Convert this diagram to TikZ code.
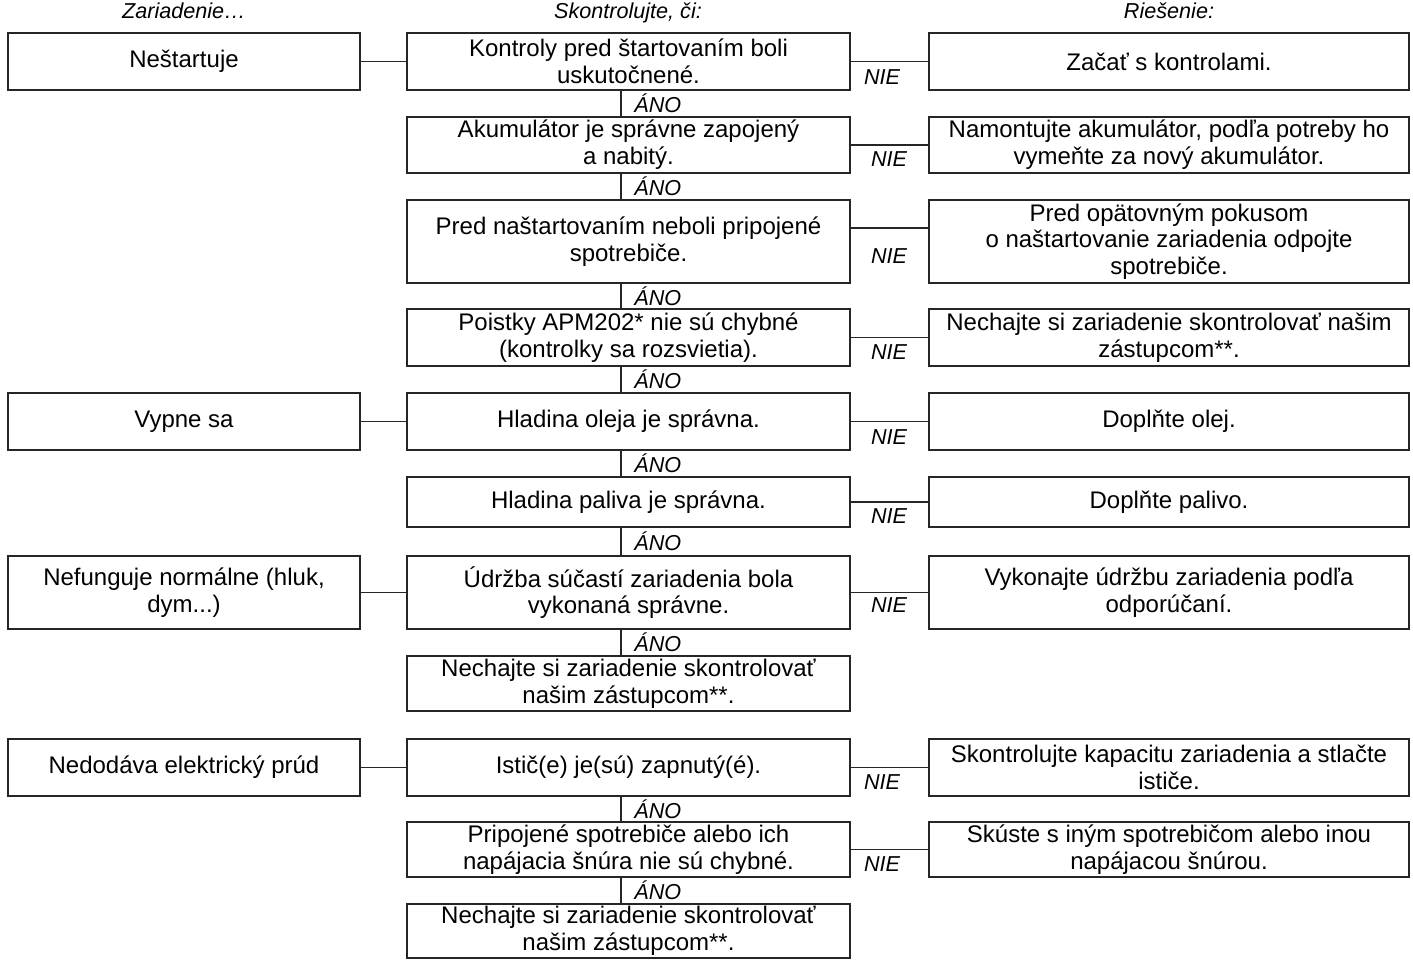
\documentclass[tikz,border=0pt]{standalone}
\usepackage{fontspec}
\setmainfont{Liberation Sans}
\begin{document}
\begin{tikzpicture}[x=0.5pt,y=-0.5pt,
  box/.style={draw=black!85, line width=0.6pt, inner sep=0pt, align=center,
    font=\fontsize{12}{13.4}\selectfont},
  lcol/.style={box, minimum width=176pt},
  mcol/.style={box, minimum width=221.5pt},
  rcol/.style={box, minimum width=240pt},
  lbl/.style={inner sep=0pt, font=\fontsize{10.8}{12}\selectfont\itshape},
  conn/.style={draw=black!85, line width=0.6pt}]
\useasboundingbox (0,0) rectangle (1413,959);
% headers
\node[lbl, anchor=base] (h1) at (184,18) {Zariadenie…};
\node[lbl, anchor=base] (h2) at (628,18) {Skontrolujte, či:};
\node[lbl, anchor=base] (h3) at (1169,18) {Riešenie:};
% left column
\node[lcol, minimum height=28.5pt] (l1) at (184,61.5) {Neštartuje};
\node[lcol, minimum height=28.5pt] (l5) at (184,421.5) {Vypne sa};
\node[lcol, minimum height=36.5pt] (l7) at (184,592.5) {Nefunguje normálne (hluk,\\dym...)};
\node[lcol, minimum height=28.5pt] (l9) at (184,767.5) {Nedodáva elektrický prúd};
% middle column
\node[mcol, minimum height=28.5pt] (m1) at (628.5,61.5) {Kontroly pred štartovaním boli\\uskutočnené.};
\node[mcol, minimum height=28pt] (m2) at (628.5,145) {Akumulátor je správne zapojený\\a nabitý.};
\node[mcol, minimum height=41.5pt] (m3) at (628.5,241.5) {Pred naštartovaním neboli pripojené\\spotrebiče.};
\node[mcol, minimum height=28.5pt] (m4) at (628.5,337.5) {Poistky APM202* nie sú chybné\\(kontrolky sa rozsvietia).};
\node[mcol, minimum height=28.5pt] (m5) at (628.5,421.5) {Hladina oleja je správna.};
\node[mcol, minimum height=25pt] (m6) at (628.5,502) {Hladina paliva je správna.};
\node[mcol, minimum height=36.5pt] (m7) at (628.5,592.5) {Údržba súčastí zariadenia bola\\vykonaná správne.};
\node[mcol, minimum height=27.5pt] (m8) at (628.5,683.5) {Nechajte si zariadenie skontrolovať\\našim zástupcom**.};
\node[mcol, minimum height=28.5pt] (m9) at (628.5,767.5) {Istič(e) je(sú) zapnutý(é).};
\node[mcol, minimum height=27.5pt] (m10) at (628.5,849.5) {Pripojené spotrebiče alebo ich\\napájacia šnúra nie sú chybné.};
\node[mcol, minimum height=27pt] (m11) at (628.5,931) {Nechajte si zariadenie skontrolovať\\našim zástupcom**.};
% right column
\node[rcol, minimum height=28.5pt] (r1) at (1169,61.5) {Začať s kontrolami.};
\node[rcol, minimum height=28pt] (r2) at (1169,145) {Namontujte akumulátor, podľa potreby ho\\vymeňte za nový akumulátor.};
\node[rcol, minimum height=41.5pt] (r3) at (1169,241.5) {Pred opätovným pokusom\\o naštartovanie zariadenia odpojte\\spotrebiče.};
\node[rcol, minimum height=28.5pt] (r4) at (1169,337.5) {Nechajte si zariadenie skontrolovať našim\\zástupcom**.};
\node[rcol, minimum height=28.5pt] (r5) at (1169,421.5) {Doplňte olej.};
\node[rcol, minimum height=25pt] (r6) at (1169,502) {Doplňte palivo.};
\node[rcol, minimum height=36.5pt] (r7) at (1169,592.5) {Vykonajte údržbu zariadenia podľa\\odporúčaní.};
\node[rcol, minimum height=28.5pt] (r9) at (1169,767.5) {Skontrolujte kapacitu zariadenia a stlačte\\ističe.};
\node[rcol, minimum height=27.5pt] (r10) at (1169,849.5) {Skúste s iným spotrebičom alebo inou\\napájacou šnúrou.};
% left connectors
\draw[conn] (l1.east) -- (m1.west);
\draw[conn] (l5.east) -- (m5.west);
\draw[conn] (l7.east) -- (m7.west);
\draw[conn] (l9.east) -- (m9.west);
% NIE connectors
\draw[conn] (m1.east) -- (r1.west);
\draw[conn] (m2.east) -- (r2.west);
\draw[conn] ([yshift=6.75pt]m3.east) -- ([yshift=6.75pt]r3.west);
\draw[conn] (m4.east) -- (r4.west);
\draw[conn] (m5.east) -- (r5.west);
\draw[conn] (m6.east) -- (r6.west);
\draw[conn] (m7.east) -- (r7.west);
\draw[conn] (m9.east) -- (r9.west);
\draw[conn] (m10.east) -- (r10.west);
\node[lbl] (n1) at (882,77) {NIE};
\node[lbl] (n2) at (889,159) {NIE};
\node[lbl] (n3) at (889,256) {NIE};
\node[lbl] (n4) at (889,352) {NIE};
\node[lbl] (n5) at (889,437) {NIE};
\node[lbl] (n6) at (889,516) {NIE};
\node[lbl] (n7) at (889,605) {NIE};
\node[lbl] (n9) at (882,782) {NIE};
\node[lbl] (n10) at (882,864) {NIE};
% ANO connectors
\draw[conn] ([xshift=-3.75pt]m1.south) -- ([xshift=-3.75pt]m2.north);
\draw[conn] ([xshift=-3.75pt]m2.south) -- ([xshift=-3.75pt]m3.north);
\draw[conn] ([xshift=-3.75pt]m3.south) -- ([xshift=-3.75pt]m4.north);
\draw[conn] ([xshift=-3.75pt]m4.south) -- ([xshift=-3.75pt]m5.north);
\draw[conn] ([xshift=-3.75pt]m5.south) -- ([xshift=-3.75pt]m6.north);
\draw[conn] ([xshift=-3.75pt]m6.south) -- ([xshift=-3.75pt]m7.north);
\draw[conn] ([xshift=-3.75pt]m7.south) -- ([xshift=-3.75pt]m8.north);
\draw[conn] ([xshift=-3.75pt]m9.south) -- ([xshift=-3.75pt]m10.north);
\draw[conn] ([xshift=-3.75pt]m10.south) -- ([xshift=-3.75pt]m11.north);
\node[lbl, anchor=west] (a1) at (634,103.5) {ÁNO};
\node[lbl, anchor=west] (a2) at (634,186.5) {ÁNO};
\node[lbl, anchor=west] (a3) at (634,296) {ÁNO};
\node[lbl, anchor=west] (a4) at (634,379.5) {ÁNO};
\node[lbl, anchor=west] (a5) at (634,463.5) {ÁNO};
\node[lbl, anchor=west] (a6) at (634,541.5) {ÁNO};
\node[lbl, anchor=west] (a7) at (634,642.5) {ÁNO};
\node[lbl, anchor=west] (a9) at (634,809) {ÁNO};
\node[lbl, anchor=west] (a10) at (634,890.5) {ÁNO};
\end{tikzpicture}
\end{document}
